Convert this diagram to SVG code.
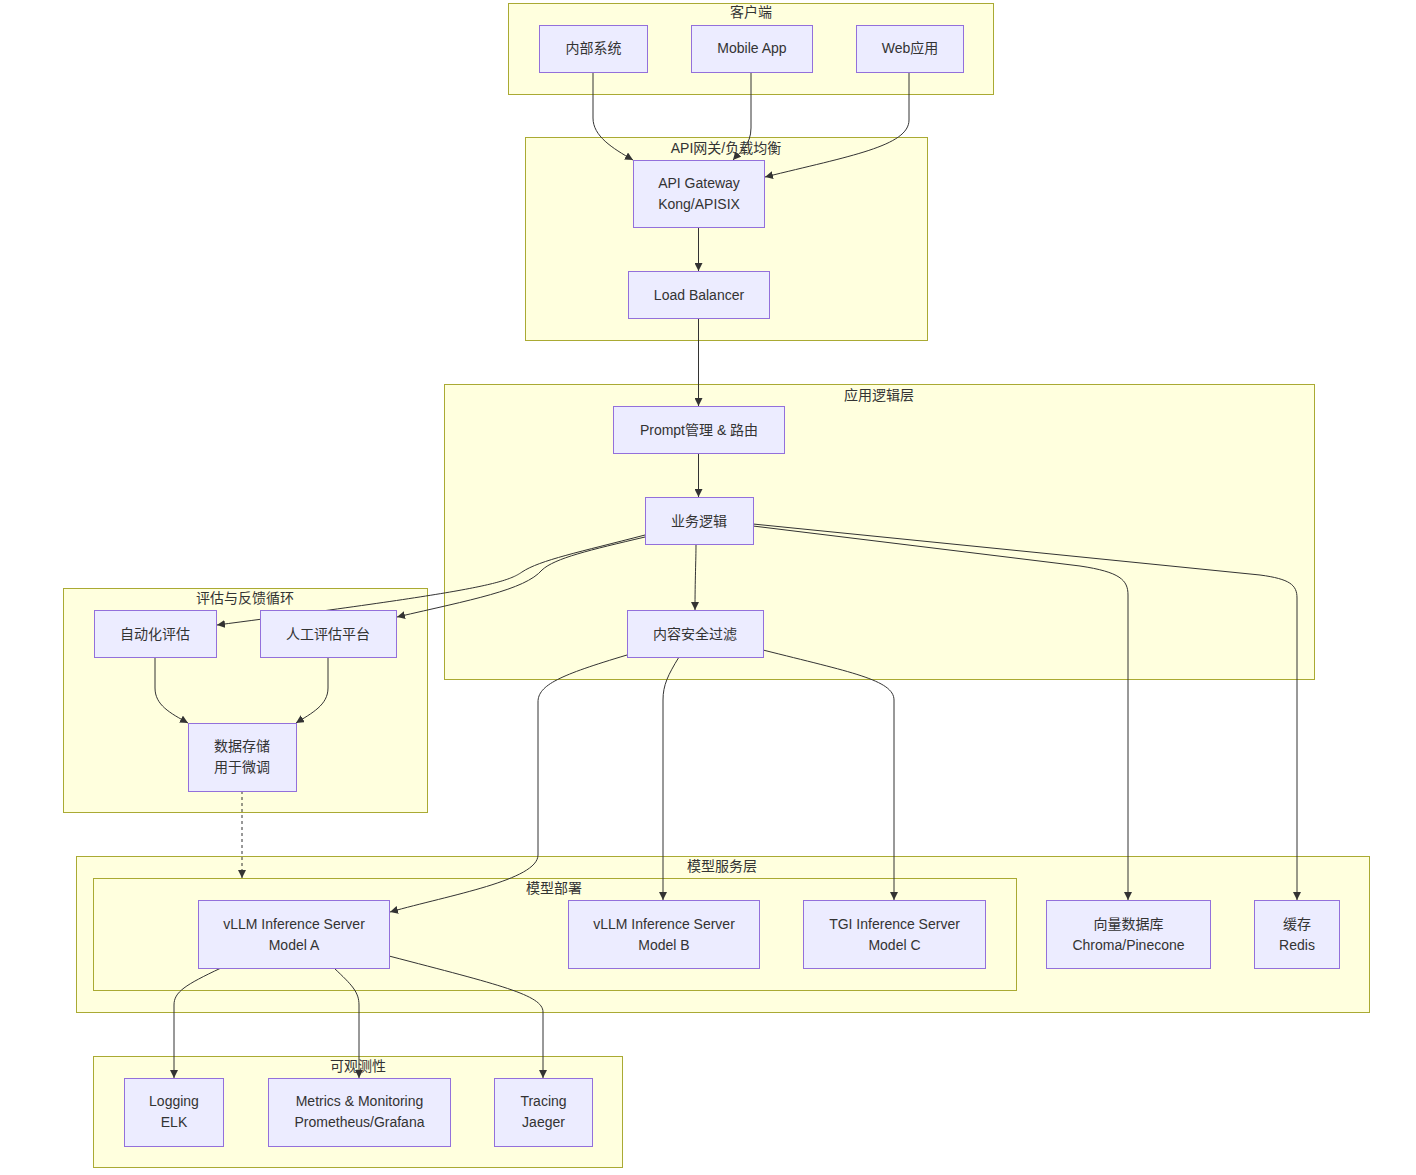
<svg xmlns="http://www.w3.org/2000/svg" width="1416" height="1175" viewBox="0 0 1416 1175">
<style>
.cl{fill:#ffffde;stroke:#aaaa33;stroke-width:1}
.nd{fill:#ececff;stroke:#9370db;stroke-width:1}
text{font-family:"Liberation Sans","Noto Sans CJK SC",sans-serif;font-size:14px;fill:#333;text-anchor:middle;dominant-baseline:central}
.e{fill:none;stroke:#333;stroke-width:1}
.d{stroke-dasharray:3,3}
</style>
<defs>
<marker id="ah" viewBox="0 0 10 10" refX="10" refY="5" markerWidth="8" markerHeight="8" markerUnits="userSpaceOnUse" orient="auto">
<path d="M0,0 L10,5 L0,10 z" fill="#333"/>
</marker>
</defs>
<g id="clusters">
<g id="c-client"><rect class="cl" x="508.5" y="3.5" width="485" height="91"/><text x="751" y="12">客户端</text></g>
<g id="c-gw"><rect class="cl" x="525.5" y="137.5" width="402" height="203"/><text x="726" y="148">API网关/负载均衡</text></g>
<g id="c-app"><rect class="cl" x="444.5" y="384.5" width="870" height="295"/><text x="879" y="395">应用逻辑层</text></g>
<g id="c-eval"><rect class="cl" x="63.5" y="588.5" width="364" height="224"/><text x="245" y="598">评估与反馈循环</text></g>
<g id="c-serve"><rect class="cl" x="76.5" y="856.5" width="1293" height="156"/><text x="722" y="866">模型服务层</text></g>
<g id="c-deploy"><rect class="cl" x="93.5" y="878.5" width="923" height="112"/><text x="554" y="888">模型部署</text></g>
<g id="c-obs"><rect class="cl" x="93.5" y="1056.5" width="529" height="111"/><text x="358" y="1066">可观测性</text></g>
</g>
<g id="edges">
<path class="e" marker-end="url(#ah)" d="M593,72 L593,118 C593,136 612,148 633,160"/>
<path class="e" marker-end="url(#ah)" d="M751,72 L751,128 C751,145 740,152 733,160"/>
<path class="e" marker-end="url(#ah)" d="M909,72 L909,120 C909,146 850,156 765,177"/>
<path class="e" marker-end="url(#ah)" d="M698.5,227 L698.5,271"/>
<path class="e" marker-end="url(#ah)" d="M698.5,318 L698.5,406"/>
<path class="e" marker-end="url(#ah)" d="M698.5,453 L698.5,497"/>
<path class="e" marker-end="url(#ah)" d="M696,544 C696,560 695,580 695,610"/>
<path class="e" marker-end="url(#ah)" d="M645,535 C580,552 540,560 522,572 C505,584 470,592 217,625"/>
<path class="e" marker-end="url(#ah)" d="M645,537 C590,550 555,558 542,570 C525,590 470,600 397,617"/>
<path class="e" marker-end="url(#ah)" d="M753,526 L1080,566 C1120,572 1128,580 1128,595 L1128,900"/>
<path class="e" marker-end="url(#ah)" d="M753,524 L1260,575 C1290,579 1297,585 1297,598 L1297,900"/>
<path class="e" marker-end="url(#ah)" d="M627,655 C560,675 538,685 538,702 L538,855 C538,880 450,895 390,912"/>
<path class="e" marker-end="url(#ah)" d="M679,657 C668,675 663,685 663,700 L663,900"/>
<path class="e" marker-end="url(#ah)" d="M763,650 C850,672 894,680 894,700 L894,900"/>
<path class="e" marker-end="url(#ah)" d="M155,657 L155,688 C155,705 170,713 188,723"/>
<path class="e" marker-end="url(#ah)" d="M328,657 L328,688 C328,705 312,713 296,723"/>
<path class="e d" marker-end="url(#ah)" d="M242,791 L242,878"/>
<path class="e" marker-end="url(#ah)" d="M221,968 C185,985 174,992 174,1005 L174,1078"/>
<path class="e" marker-end="url(#ah)" d="M334,968 C352,985 359,992 359,1005 L359,1078"/>
<path class="e" marker-end="url(#ah)" d="M389,956 C500,985 543,995 543,1012 L543,1078"/>
</g>
<g id="n-internal"><rect class="nd" x="539.5" y="25.5" width="108" height="47"/><text x="593.5" y="48">内部系统</text></g>
<g id="n-mobile"><rect class="nd" x="691.5" y="25.5" width="121" height="47"/><text x="752" y="48">Mobile App</text></g>
<g id="n-web"><rect class="nd" x="856.5" y="25.5" width="107" height="47"/><text x="910" y="48">Web应用</text></g>
<g id="n-apigw"><rect class="nd" x="633.5" y="160.5" width="131" height="67"/><text x="699" y="183">API Gateway</text><text x="699" y="204">Kong/APISIX</text></g>
<g id="n-lb"><rect class="nd" x="628.5" y="271.5" width="141" height="47"/><text x="699" y="295">Load Balancer</text></g>
<g id="n-prompt"><rect class="nd" x="613.5" y="406.5" width="171" height="47"/><text x="699" y="430">Prompt管理 &amp; 路由</text></g>
<g id="n-biz"><rect class="nd" x="645.5" y="497.5" width="108" height="47"/><text x="699" y="521">业务逻辑</text></g>
<g id="n-safety"><rect class="nd" x="627.5" y="610.5" width="136" height="47"/><text x="695" y="634">内容安全过滤</text></g>
<g id="n-autoeval"><rect class="nd" x="94.5" y="610.5" width="122" height="47"/><text x="155" y="634">自动化评估</text></g>
<g id="n-humaneval"><rect class="nd" x="260.5" y="610.5" width="136" height="47"/><text x="328" y="634">人工评估平台</text></g>
<g id="n-datastore"><rect class="nd" x="188.5" y="723.5" width="108" height="68"/><text x="242" y="746">数据存储</text><text x="242" y="767">用于微调</text></g>
<g id="n-vllma"><rect class="nd" x="198.5" y="900.5" width="191" height="68"/><text x="294" y="924">vLLM Inference Server</text><text x="294" y="945">Model A</text></g>
<g id="n-vllmb"><rect class="nd" x="568.5" y="900.5" width="191" height="68"/><text x="664" y="924">vLLM Inference Server</text><text x="664" y="945">Model B</text></g>
<g id="n-tgi"><rect class="nd" x="803.5" y="900.5" width="182" height="68"/><text x="894.5" y="924">TGI Inference Server</text><text x="894.5" y="945">Model C</text></g>
<g id="n-vector"><rect class="nd" x="1046.5" y="900.5" width="164" height="68"/><text x="1128.5" y="924">向量数据库</text><text x="1128.5" y="945">Chroma/Pinecone</text></g>
<g id="n-cache"><rect class="nd" x="1254.5" y="900.5" width="85" height="68"/><text x="1297" y="924">缓存</text><text x="1297" y="945">Redis</text></g>
<g id="n-logging"><rect class="nd" x="124.5" y="1078.5" width="99" height="68"/><text x="174" y="1101">Logging</text><text x="174" y="1122">ELK</text></g>
<g id="n-metrics"><rect class="nd" x="268.5" y="1078.5" width="182" height="68"/><text x="359.5" y="1101">Metrics &amp; Monitoring</text><text x="359.5" y="1122">Prometheus/Grafana</text></g>
<g id="n-tracing"><rect class="nd" x="494.5" y="1078.5" width="98" height="68"/><text x="543.5" y="1101">Tracing</text><text x="543.5" y="1122">Jaeger</text></g>
</svg>
